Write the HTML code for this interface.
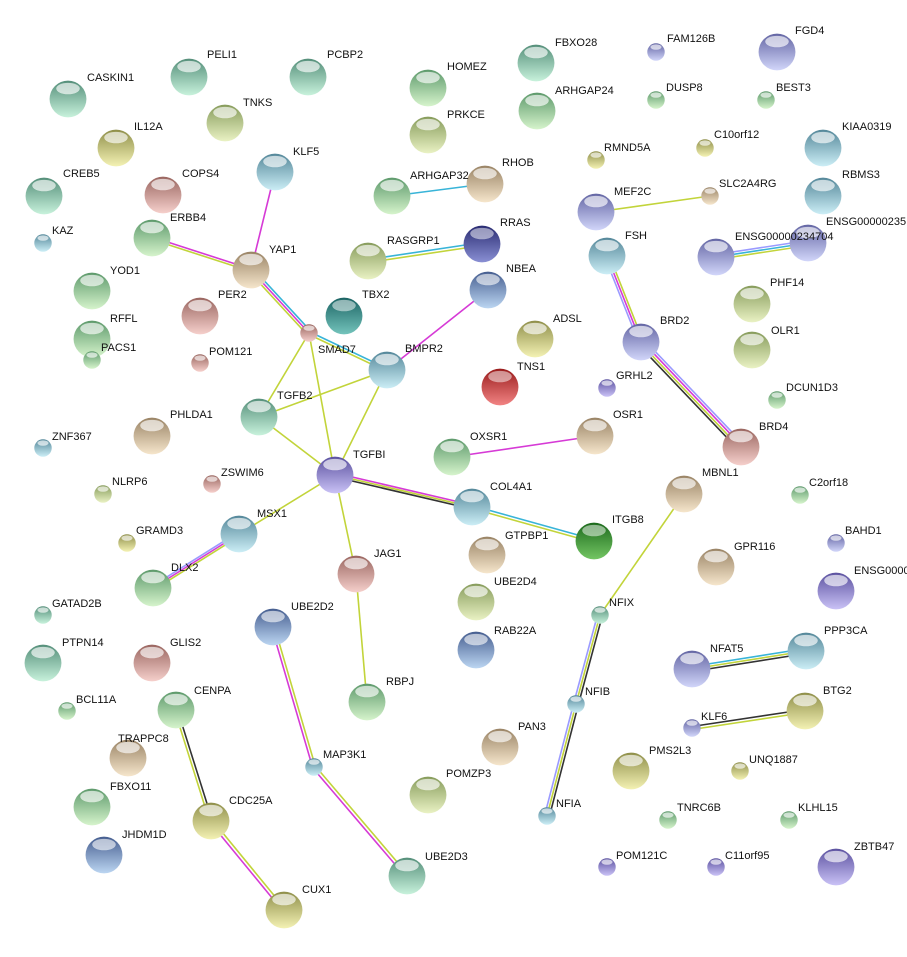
<!DOCTYPE html>
<html><head><meta charset="utf-8"><style>
html,body{margin:0;padding:0;background:#fff}
svg{display:block}
text{font-family:"Liberation Sans",sans-serif;font-size:11px;fill:#111}
</style></head><body>
<svg width="907" height="957" viewBox="0 0 907 957" xmlns="http://www.w3.org/2000/svg">
<defs>
<linearGradient id="Gg" x1="0" y1="0" x2="0" y2="1"><stop offset="0" stop-color="#5e9a6c"/><stop offset="1" stop-color="#d6f4cc"/></linearGradient>
<linearGradient id="Gt" x1="0" y1="0" x2="0" y2="1"><stop offset="0" stop-color="#558f7a"/><stop offset="1" stop-color="#c8f2dc"/></linearGradient>
<linearGradient id="Gy" x1="0" y1="0" x2="0" y2="1"><stop offset="0" stop-color="#879c5c"/><stop offset="1" stop-color="#eaf2c4"/></linearGradient>
<linearGradient id="Go" x1="0" y1="0" x2="0" y2="1"><stop offset="0" stop-color="#8f8f4a"/><stop offset="1" stop-color="#f4f2b4"/></linearGradient>
<linearGradient id="Gn" x1="0" y1="0" x2="0" y2="1"><stop offset="0" stop-color="#9a8466"/><stop offset="1" stop-color="#f6e6cc"/></linearGradient>
<linearGradient id="Gs" x1="0" y1="0" x2="0" y2="1"><stop offset="0" stop-color="#9a6660"/><stop offset="1" stop-color="#f6d0cc"/></linearGradient>
<linearGradient id="Gb" x1="0" y1="0" x2="0" y2="1"><stop offset="0" stop-color="#55889a"/><stop offset="1" stop-color="#cceef6"/></linearGradient>
<linearGradient id="Gl" x1="0" y1="0" x2="0" y2="1"><stop offset="0" stop-color="#6466a4"/><stop offset="1" stop-color="#d2d6fa"/></linearGradient>
<linearGradient id="Gp" x1="0" y1="0" x2="0" y2="1"><stop offset="0" stop-color="#5c52a0"/><stop offset="1" stop-color="#cac2f6"/></linearGradient>
<linearGradient id="Gk" x1="0" y1="0" x2="0" y2="1"><stop offset="0" stop-color="#2a2c72"/><stop offset="1" stop-color="#8a90d4"/></linearGradient>
<linearGradient id="Gc" x1="0" y1="0" x2="0" y2="1"><stop offset="0" stop-color="#1c6464"/><stop offset="1" stop-color="#74c4bc"/></linearGradient>
<linearGradient id="Gr" x1="0" y1="0" x2="0" y2="1"><stop offset="0" stop-color="#9a1c1c"/><stop offset="1" stop-color="#f28484"/></linearGradient>
<linearGradient id="Gd" x1="0" y1="0" x2="0" y2="1"><stop offset="0" stop-color="#1c6a1c"/><stop offset="1" stop-color="#74c664"/></linearGradient>
<linearGradient id="Gu" x1="0" y1="0" x2="0" y2="1"><stop offset="0" stop-color="#465e90"/><stop offset="1" stop-color="#bcd6f2"/></linearGradient>
<symbol id="g" viewBox="-1 -1 2 2"><circle r="0.97" fill="url(#Gg)"/><ellipse cy="-0.55" rx="0.62" ry="0.3" fill="#fff" opacity="0.65"/></symbol>
<symbol id="t" viewBox="-1 -1 2 2"><circle r="0.97" fill="url(#Gt)"/><ellipse cy="-0.55" rx="0.62" ry="0.3" fill="#fff" opacity="0.65"/></symbol>
<symbol id="y" viewBox="-1 -1 2 2"><circle r="0.97" fill="url(#Gy)"/><ellipse cy="-0.55" rx="0.62" ry="0.3" fill="#fff" opacity="0.65"/></symbol>
<symbol id="o" viewBox="-1 -1 2 2"><circle r="0.97" fill="url(#Go)"/><ellipse cy="-0.55" rx="0.62" ry="0.3" fill="#fff" opacity="0.65"/></symbol>
<symbol id="n" viewBox="-1 -1 2 2"><circle r="0.97" fill="url(#Gn)"/><ellipse cy="-0.55" rx="0.62" ry="0.3" fill="#fff" opacity="0.65"/></symbol>
<symbol id="s" viewBox="-1 -1 2 2"><circle r="0.97" fill="url(#Gs)"/><ellipse cy="-0.55" rx="0.62" ry="0.3" fill="#fff" opacity="0.65"/></symbol>
<symbol id="b" viewBox="-1 -1 2 2"><circle r="0.97" fill="url(#Gb)"/><ellipse cy="-0.55" rx="0.62" ry="0.3" fill="#fff" opacity="0.65"/></symbol>
<symbol id="l" viewBox="-1 -1 2 2"><circle r="0.97" fill="url(#Gl)"/><ellipse cy="-0.55" rx="0.62" ry="0.3" fill="#fff" opacity="0.65"/></symbol>
<symbol id="p" viewBox="-1 -1 2 2"><circle r="0.97" fill="url(#Gp)"/><ellipse cy="-0.55" rx="0.62" ry="0.3" fill="#fff" opacity="0.65"/></symbol>
<symbol id="k" viewBox="-1 -1 2 2"><circle r="0.97" fill="url(#Gk)"/><ellipse cy="-0.55" rx="0.62" ry="0.3" fill="#fff" opacity="0.5"/></symbol>
<symbol id="c" viewBox="-1 -1 2 2"><circle r="0.97" fill="url(#Gc)"/><ellipse cy="-0.55" rx="0.62" ry="0.3" fill="#fff" opacity="0.5"/></symbol>
<symbol id="r" viewBox="-1 -1 2 2"><circle r="0.97" fill="url(#Gr)"/><ellipse cy="-0.55" rx="0.62" ry="0.3" fill="#fff" opacity="0.5"/></symbol>
<symbol id="d" viewBox="-1 -1 2 2"><circle r="0.97" fill="url(#Gd)"/><ellipse cy="-0.55" rx="0.62" ry="0.3" fill="#fff" opacity="0.5"/></symbol>
<symbol id="u" viewBox="-1 -1 2 2"><circle r="0.97" fill="url(#Gu)"/><ellipse cy="-0.55" rx="0.62" ry="0.3" fill="#fff" opacity="0.6"/></symbol>
</defs>

<g stroke-width="1.6" fill="none">
<line x1="275" y1="172" x2="251" y2="270" stroke="#d63ad6"/>
<line x1="152" y1="237" x2="251" y2="269" stroke="#d63ad6"/>
<line x1="152" y1="239.5" x2="251" y2="271.5" stroke="#c2d43a"/>
<line x1="392" y1="196" x2="485" y2="184" stroke="#38b4d8"/>
<line x1="368" y1="259.5" x2="482" y2="242.5" stroke="#38b4d8"/>
<line x1="368" y1="262.5" x2="482" y2="245.5" stroke="#c2d43a"/>
<line x1="249.2" y1="271.7" x2="307.2" y2="334.7" stroke="#c2d43a"/>
<line x1="251" y1="270" x2="309" y2="333" stroke="#d63ad6"/>
<line x1="252.8" y1="268.3" x2="310.8" y2="331.3" stroke="#38b4d8"/>
<line x1="309" y1="331.5" x2="387" y2="368.5" stroke="#38b4d8"/>
<line x1="309" y1="334.5" x2="387" y2="371.5" stroke="#c2d43a"/>
<line x1="309" y1="333" x2="259" y2="417" stroke="#c2d43a"/>
<line x1="309" y1="333" x2="335" y2="475" stroke="#c2d43a"/>
<line x1="259" y1="417" x2="387" y2="370" stroke="#c2d43a"/>
<line x1="259" y1="417" x2="335" y2="475" stroke="#c2d43a"/>
<line x1="387" y1="370" x2="335" y2="475" stroke="#c2d43a"/>
<line x1="488" y1="290" x2="387" y2="370" stroke="#d63ad6"/>
<line x1="335" y1="473" x2="472" y2="505" stroke="#d63ad6"/>
<line x1="335" y1="475" x2="472" y2="507" stroke="#c2d43a"/>
<line x1="335" y1="477" x2="472" y2="509" stroke="#333"/>
<line x1="472" y1="505.5" x2="594" y2="539.5" stroke="#38b4d8"/>
<line x1="472" y1="508.5" x2="594" y2="542.5" stroke="#c2d43a"/>
<line x1="335" y1="475" x2="239" y2="534" stroke="#c2d43a"/>
<line x1="238" y1="532.3" x2="152" y2="586.3" stroke="#9a9aff"/>
<line x1="239" y1="534" x2="153" y2="588" stroke="#d63ad6"/>
<line x1="240" y1="535.7" x2="154" y2="589.7" stroke="#c2d43a"/>
<line x1="335" y1="475" x2="356" y2="574" stroke="#c2d43a"/>
<line x1="356" y1="574" x2="367" y2="702" stroke="#c2d43a"/>
<line x1="452" y1="457" x2="595" y2="436" stroke="#d63ad6"/>
<line x1="596" y1="212" x2="710" y2="196" stroke="#c2d43a"/>
<line x1="716" y1="254.5" x2="808" y2="240.5" stroke="#9a9aff"/>
<line x1="716" y1="257" x2="808" y2="243" stroke="#38b4d8"/>
<line x1="716" y1="259.5" x2="808" y2="245.5" stroke="#c2d43a"/>
<line x1="604.5" y1="256" x2="638.5" y2="342" stroke="#9a9aff"/>
<line x1="607" y1="256" x2="641" y2="342" stroke="#d63ad6"/>
<line x1="609.5" y1="256" x2="643.5" y2="342" stroke="#c2d43a"/>
<line x1="638.3" y1="344.6" x2="738.3" y2="449.6" stroke="#333"/>
<line x1="640.1" y1="342.9" x2="740.1" y2="447.9" stroke="#c2d43a"/>
<line x1="641.9" y1="341.1" x2="741.9" y2="446.1" stroke="#d63ad6"/>
<line x1="643.7" y1="339.4" x2="743.7" y2="444.4" stroke="#9a9aff"/>
<line x1="684" y1="494" x2="600" y2="615" stroke="#c2d43a"/>
<line x1="597.5" y1="615" x2="573.5" y2="704" stroke="#9a9aff"/>
<line x1="600" y1="615" x2="576" y2="704" stroke="#c2d43a"/>
<line x1="602.5" y1="615" x2="578.5" y2="704" stroke="#333"/>
<line x1="573.5" y1="704" x2="544.5" y2="816" stroke="#9a9aff"/>
<line x1="576" y1="704" x2="547" y2="816" stroke="#c2d43a"/>
<line x1="578.5" y1="704" x2="549.5" y2="816" stroke="#333"/>
<line x1="692" y1="666.5" x2="806" y2="648.5" stroke="#38b4d8"/>
<line x1="692" y1="669" x2="806" y2="651" stroke="#c2d43a"/>
<line x1="692" y1="671.5" x2="806" y2="653.5" stroke="#333"/>
<line x1="692" y1="726.5" x2="805" y2="709.5" stroke="#333"/>
<line x1="692" y1="729.5" x2="805" y2="712.5" stroke="#c2d43a"/>
<line x1="271.5" y1="627" x2="312.5" y2="767" stroke="#d63ad6"/>
<line x1="274.5" y1="627" x2="315.5" y2="767" stroke="#c2d43a"/>
<line x1="312.8" y1="768" x2="405.8" y2="877" stroke="#d63ad6"/>
<line x1="315.2" y1="766" x2="408.2" y2="875" stroke="#c2d43a"/>
<line x1="174.5" y1="710" x2="209.5" y2="821" stroke="#c2d43a"/>
<line x1="177.5" y1="710" x2="212.5" y2="821" stroke="#333"/>
<line x1="209.8" y1="822" x2="282.8" y2="911" stroke="#d63ad6"/>
<line x1="212.2" y1="820" x2="285.2" y2="909" stroke="#c2d43a"/>
</g>

<g>
<use href="#l" x="758" y="33" width="38" height="38"/><text x="795" y="34">FGD4</text>
<use href="#l" x="647" y="43" width="18" height="18"/><text x="667" y="42">FAM126B</text>
<use href="#t" x="517" y="44" width="38" height="38"/><text x="555" y="46">FBXO28</text>
<use href="#t" x="289" y="58" width="38" height="38"/><text x="327" y="58">PCBP2</text>
<use href="#t" x="170" y="58" width="38" height="38"/><text x="207" y="58">PELI1</text>
<use href="#g" x="409" y="69" width="38" height="38"/><text x="447" y="70">HOMEZ</text>
<use href="#t" x="49" y="80" width="38" height="38"/><text x="87" y="81">CASKIN1</text>
<use href="#g" x="647" y="91" width="18" height="18"/><text x="666" y="91">DUSP8</text>
<use href="#g" x="757" y="91" width="18" height="18"/><text x="776" y="91">BEST3</text>
<use href="#g" x="518" y="92" width="38" height="38"/><text x="555" y="94">ARHGAP24</text>
<use href="#y" x="206" y="104" width="38" height="38"/><text x="243" y="106">TNKS</text>
<use href="#y" x="409" y="116" width="38" height="38"/><text x="447" y="118">PRKCE</text>
<use href="#o" x="97" y="129" width="38" height="38"/><text x="134" y="130">IL12A</text>
<use href="#b" x="804" y="129" width="38" height="38"/><text x="842" y="130">KIAA0319</text>
<use href="#o" x="696" y="139" width="18" height="18"/><text x="714" y="138">C10orf12</text>
<use href="#o" x="587" y="151" width="18" height="18"/><text x="604" y="151">RMND5A</text>
<use href="#b" x="256" y="153" width="38" height="38"/><text x="293" y="155">KLF5</text>
<use href="#s" x="144" y="176" width="38" height="38"/><text x="182" y="177">COPS4</text>
<use href="#n" x="466" y="165" width="38" height="38"/><text x="502" y="166">RHOB</text>
<use href="#t" x="25" y="177" width="38" height="38"/><text x="63" y="177">CREB5</text>
<use href="#g" x="373" y="177" width="38" height="38"/><text x="410" y="179">ARHGAP32</text>
<use href="#b" x="804" y="177" width="38" height="38"/><text x="842" y="178">RBMS3</text>
<use href="#n" x="701" y="187" width="18" height="18"/><text x="719" y="187">SLC2A4RG</text>
<use href="#l" x="577" y="193" width="38" height="38"/><text x="614" y="195">MEF2C</text>
<use href="#g" x="133" y="219" width="38" height="38"/><text x="170" y="221">ERBB4</text>
<use href="#b" x="34" y="234" width="18" height="18"/><text x="52" y="234">KAZ</text>
<use href="#l" x="789" y="224" width="38" height="38"/><text x="826" y="225">ENSG00000235</text>
<use href="#l" x="697" y="238" width="38" height="38"/><text x="735" y="240">ENSG00000234704</text>
<use href="#k" x="463" y="225" width="38" height="38"/><text x="500" y="226">RRAS</text>
<use href="#b" x="588" y="237" width="38" height="38"/><text x="625" y="239">FSH</text>
<use href="#y" x="349" y="242" width="38" height="38"/><text x="387" y="244">RASGRP1</text>
<use href="#n" x="232" y="251" width="38" height="38"/><text x="269" y="253">YAP1</text>
<use href="#g" x="73" y="272" width="38" height="38"/><text x="110" y="274">YOD1</text>
<use href="#u" x="469" y="271" width="38" height="38"/><text x="506" y="272">NBEA</text>
<use href="#s" x="181" y="297" width="38" height="38"/><text x="218" y="298">PER2</text>
<use href="#c" x="325" y="297" width="38" height="38"/><text x="362" y="298">TBX2</text>
<use href="#y" x="733" y="285" width="38" height="38"/><text x="770" y="286">PHF14</text>
<use href="#g" x="73" y="320" width="38" height="38"/><text x="110" y="322">RFFL</text>
<use href="#o" x="516" y="320" width="38" height="38"/><text x="553" y="322">ADSL</text>
<use href="#l" x="622" y="323" width="38" height="38"/><text x="660" y="324">BRD2</text>
<use href="#s" x="300" y="324" width="18" height="18"/><text x="318" y="353">SMAD7</text>
<use href="#b" x="368" y="351" width="38" height="38"/><text x="405" y="352">BMPR2</text>
<use href="#s" x="191" y="354" width="18" height="18"/><text x="209" y="355">POM121</text>
<use href="#y" x="733" y="331" width="38" height="38"/><text x="771" y="334">OLR1</text>
<use href="#r" x="481" y="368" width="38" height="38"/><text x="517" y="370">TNS1</text>
<use href="#g" x="83" y="351" width="18" height="18"/><text x="101" y="351">PACS1</text>
<use href="#p" x="598" y="379" width="18" height="18"/><text x="616" y="379">GRHL2</text>
<use href="#g" x="768" y="391" width="18" height="18"/><text x="786" y="391">DCUN1D3</text>
<use href="#t" x="240" y="398" width="38" height="38"/><text x="277" y="399">TGFB2</text>
<use href="#n" x="133" y="417" width="38" height="38"/><text x="170" y="418">PHLDA1</text>
<use href="#b" x="34" y="439" width="18" height="18"/><text x="52" y="440">ZNF367</text>
<use href="#n" x="576" y="417" width="38" height="38"/><text x="613" y="418">OSR1</text>
<use href="#s" x="722" y="428" width="38" height="38"/><text x="759" y="430">BRD4</text>
<use href="#g" x="433" y="438" width="38" height="38"/><text x="470" y="440">OXSR1</text>
<use href="#p" x="316" y="456" width="38" height="38"/><text x="353" y="458">TGFBI</text>
<use href="#s" x="203" y="475" width="18" height="18"/><text x="221" y="476">ZSWIM6</text>
<use href="#y" x="94" y="485" width="18" height="18"/><text x="112" y="485">NLRP6</text>
<use href="#n" x="665" y="475" width="38" height="38"/><text x="702" y="476">MBNL1</text>
<use href="#g" x="791" y="486" width="18" height="18"/><text x="809" y="486">C2orf18</text>
<use href="#b" x="453" y="488" width="38" height="38"/><text x="490" y="490">COL4A1</text>
<use href="#b" x="220" y="515" width="38" height="38"/><text x="257" y="517">MSX1</text>
<use href="#d" x="575" y="522" width="38" height="38"/><text x="612" y="523">ITGB8</text>
<use href="#n" x="468" y="536" width="38" height="38"/><text x="505" y="539">GTPBP1</text>
<use href="#o" x="118" y="534" width="18" height="18"/><text x="136" y="534">GRAMD3</text>
<use href="#l" x="827" y="534" width="18" height="18"/><text x="845" y="534">BAHD1</text>
<use href="#n" x="697" y="548" width="38" height="38"/><text x="734" y="550">GPR116</text>
<use href="#g" x="134" y="569" width="38" height="38"/><text x="171" y="571">DLX2</text>
<use href="#s" x="337" y="555" width="38" height="38"/><text x="374" y="557">JAG1</text>
<use href="#y" x="457" y="583" width="38" height="38"/><text x="494" y="585">UBE2D4</text>
<use href="#p" x="817" y="572" width="38" height="38"/><text x="854" y="574">ENSG0000</text>
<use href="#t" x="591" y="606" width="18" height="18"/><text x="609" y="606">NFIX</text>
<use href="#t" x="34" y="606" width="18" height="18"/><text x="52" y="607">GATAD2B</text>
<use href="#u" x="254" y="608" width="38" height="38"/><text x="291" y="610">UBE2D2</text>
<use href="#u" x="457" y="631" width="38" height="38"/><text x="494" y="634">RAB22A</text>
<use href="#t" x="24" y="644" width="38" height="38"/><text x="62" y="646">PTPN14</text>
<use href="#s" x="133" y="644" width="38" height="38"/><text x="170" y="646">GLIS2</text>
<use href="#b" x="787" y="632" width="38" height="38"/><text x="824" y="634">PPP3CA</text>
<use href="#l" x="673" y="650" width="38" height="38"/><text x="710" y="652">NFAT5</text>
<use href="#g" x="58" y="702" width="18" height="18"/><text x="76" y="703">BCL11A</text>
<use href="#g" x="157" y="691" width="38" height="38"/><text x="194" y="694">CENPA</text>
<use href="#b" x="567" y="695" width="18" height="18"/><text x="585" y="695">NFIB</text>
<use href="#o" x="786" y="692" width="38" height="38"/><text x="823" y="694">BTG2</text>
<use href="#g" x="348" y="683" width="38" height="38"/><text x="386" y="685">RBPJ</text>
<use href="#l" x="683" y="719" width="18" height="18"/><text x="701" y="720">KLF6</text>
<use href="#n" x="481" y="728" width="38" height="38"/><text x="518" y="730">PAN3</text>
<use href="#n" x="109" y="739" width="38" height="38"/><text x="118" y="742">TRAPPC8</text>
<use href="#b" x="305" y="758" width="18" height="18"/><text x="323" y="758">MAP3K1</text>
<use href="#o" x="612" y="752" width="38" height="38"/><text x="649" y="754">PMS2L3</text>
<use href="#o" x="731" y="762" width="18" height="18"/><text x="749" y="763">UNQ1887</text>
<use href="#g" x="73" y="788" width="38" height="38"/><text x="110" y="790">FBXO11</text>
<use href="#y" x="409" y="776" width="38" height="38"/><text x="446" y="777">POMZP3</text>
<use href="#o" x="192" y="802" width="38" height="38"/><text x="229" y="804">CDC25A</text>
<use href="#b" x="538" y="807" width="18" height="18"/><text x="556" y="807">NFIA</text>
<use href="#g" x="659" y="811" width="18" height="18"/><text x="677" y="811">TNRC6B</text>
<use href="#g" x="780" y="811" width="18" height="18"/><text x="798" y="811">KLHL15</text>
<use href="#u" x="85" y="836" width="38" height="38"/><text x="122" y="838">JHDM1D</text>
<use href="#p" x="817" y="848" width="38" height="38"/><text x="854" y="850">ZBTB47</text>
<use href="#p" x="598" y="858" width="18" height="18"/><text x="616" y="859">POM121C</text>
<use href="#p" x="707" y="858" width="18" height="18"/><text x="725" y="859">C11orf95</text>
<use href="#t" x="388" y="857" width="38" height="38"/><text x="425" y="860">UBE2D3</text>
<use href="#o" x="265" y="891" width="38" height="38"/><text x="302" y="893">CUX1</text>
</g>
</svg>
</body></html>
